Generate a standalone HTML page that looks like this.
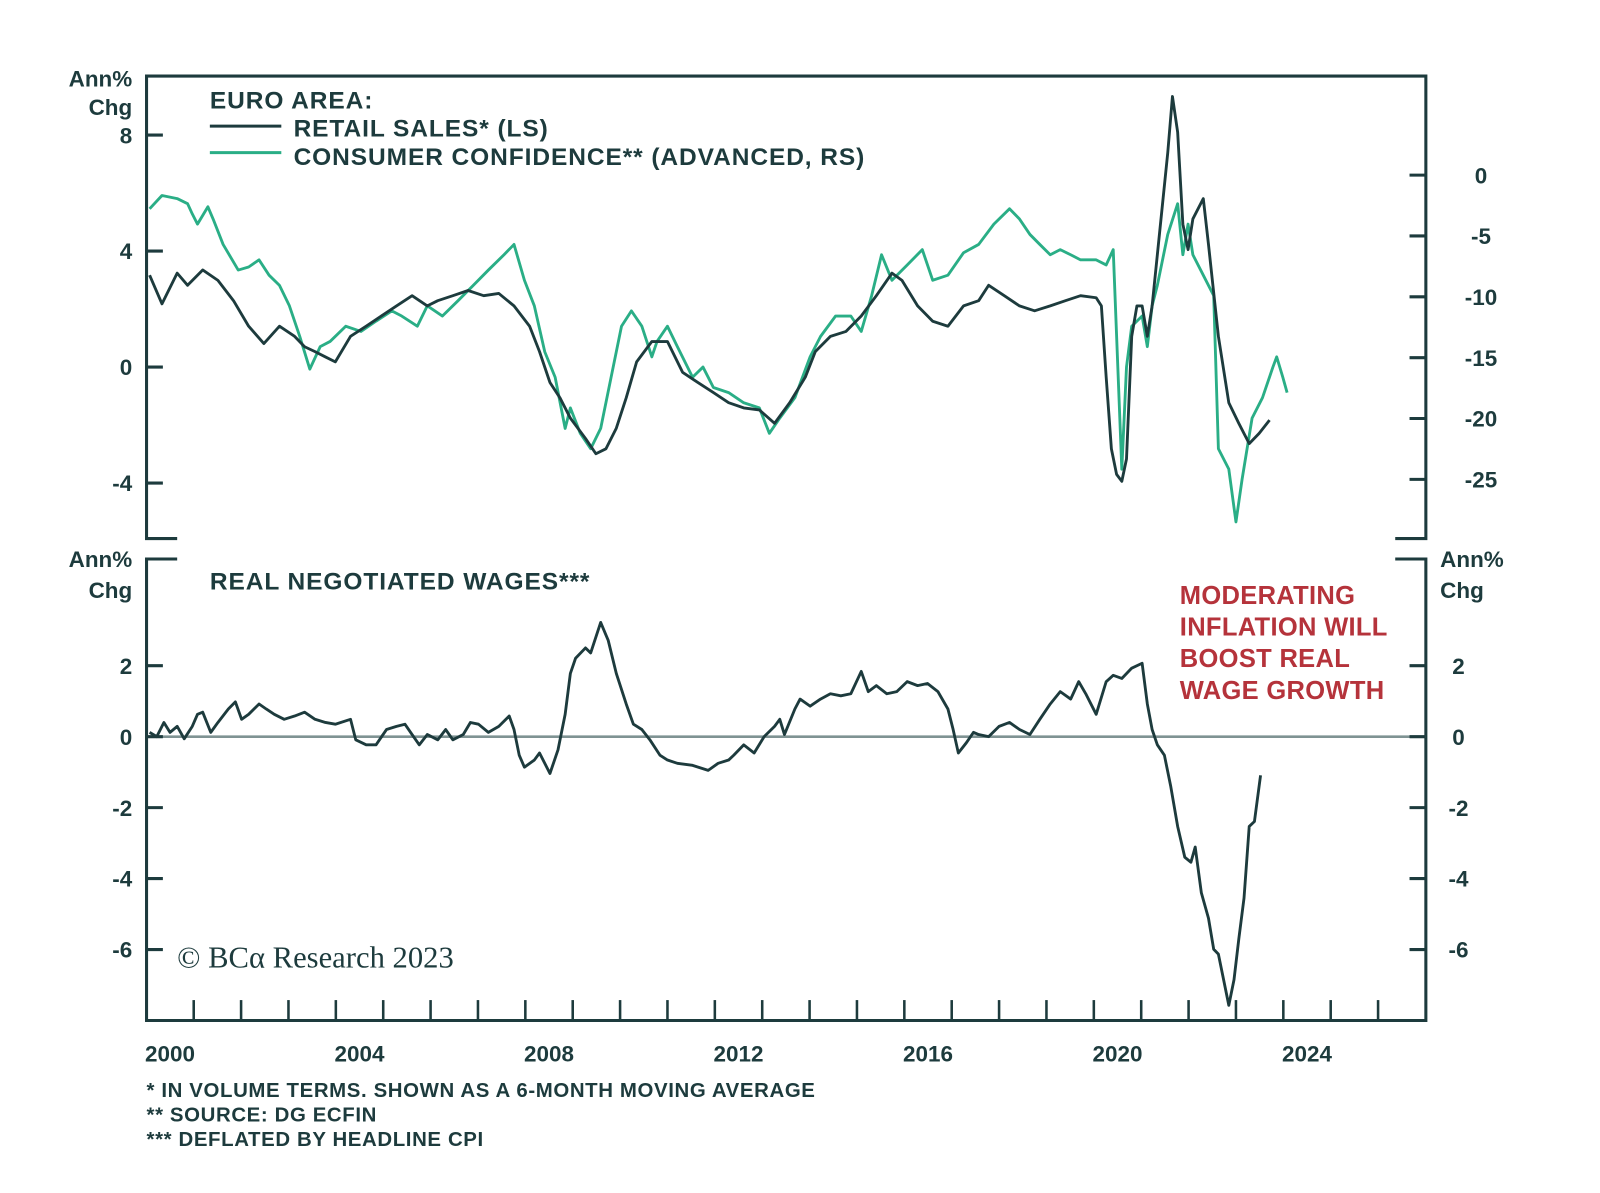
<!DOCTYPE html>
<html><head><meta charset="utf-8"><style>
html,body{margin:0;padding:0;background:#fff;}
svg{display:block;font-family:"Liberation Sans",Arial,sans-serif;font-weight:bold;}
</style></head><body>
<svg id="chart" width="1600" height="1193" viewBox="0 0 1600 1193" xmlns="http://www.w3.org/2000/svg">
<g transform="translate(-1.5,-0.5) scale(1.021)">
<g id="axes"></g>
<g id="series"></g>
<g fill="#1d3b3d" font-size="24" letter-spacing="0.9">
<text x="207" y="107">EURO AREA:</text>
<line x1="207" y1="124" x2="277" y2="124" stroke="#1d3b3d" stroke-width="3"/>
<text x="289" y="134">RETAIL SALES* (LS)</text>
<line x1="207" y1="150" x2="277" y2="150" stroke="#2aae86" stroke-width="3"/>
<text x="289" y="162">CONSUMER CONFIDENCE** (ADVANCED, RS)</text>
<text x="207" y="578">REAL NEGOTIATED WAGES***</text>
</g>
<g fill="#b5333b" font-size="25" letter-spacing="0.3">
<text x="1157" y="592">MODERATING</text><text x="1157" y="623">INFLATION WILL</text><text x="1157" y="654">BOOST REAL</text><text x="1157" y="685">WAGE GROWTH</text>
</g>
<text x="175" y="948" font-family="'Liberation Serif',serif" font-weight="normal" font-size="30" fill="#1d3b3d">© BCα Research 2023</text>
<g fill="#1d3b3d" font-size="20" letter-spacing="0.6">
<text x="145" y="1075">* IN VOLUME TERMS. SHOWN AS A 6-MONTH MOVING AVERAGE</text>
<text x="145" y="1099">**   SOURCE: DG ECFIN</text>
<text x="145" y="1123">***  DEFLATED BY HEADLINE CPI</text>
</g>
</g>
</svg>
<script>
const retailYears=[1999.57,1999.83,2000.15,2000.37,2000.69,2001.01,2001.34,2001.66,2001.98,2002.31,2002.63,2002.84,2003.06,2003.28,2003.49,2003.81,2004.14,2004.46,2004.78,2005.11,2005.43,2005.65,2005.97,2006.29,2006.62,2006.94,2007.26,2007.59,2007.80,2008.02,2008.23,2008.45,2008.77,2008.99,2009.20,2009.42,2009.63,2009.85,2010.17,2010.50,2010.82,2011.14,2011.47,2011.79,2012.11,2012.44,2012.76,2013.08,2013.41,2013.62,2013.94,2014.27,2014.59,2014.91,2015.24,2015.45,2015.78,2016.10,2016.42,2016.75,2017.07,2017.28,2017.61,2017.93,2018.25,2018.58,2018.90,2019.22,2019.55,2019.66,2019.76,2019.87,2019.98,2020.09,2020.19,2020.30,2020.41,2020.52,2020.63,2020.73,2020.95,2021.06,2021.16,2021.27,2021.38,2021.49,2021.59,2021.81,2021.92,2022.13,2022.35,2022.56,2022.78,2022.99,2023.21];
const retailValues=[3.17,2.18,3.24,2.82,3.35,2.99,2.29,1.41,0.81,1.41,1.06,0.70,0.53,0.35,0.18,1.06,1.41,1.76,2.11,2.46,2.11,2.29,2.46,2.64,2.46,2.54,2.11,1.41,0.53,-0.53,-1.06,-1.76,-2.46,-2.99,-2.82,-2.11,-1.06,0.18,0.88,0.88,-0.18,-0.53,-0.88,-1.23,-1.41,-1.48,-1.94,-1.23,-0.35,0.53,1.06,1.23,1.76,2.46,3.24,2.99,2.11,1.58,1.41,2.11,2.29,2.82,2.46,2.11,1.94,2.11,2.29,2.46,2.39,2.11,-0.35,-2.82,-3.70,-3.94,-3.17,1.06,2.11,2.11,1.06,2.11,5.63,7.39,9.33,8.10,4.93,4.05,5.11,5.81,4.23,1.06,-1.23,-1.94,-2.64,-2.29,-1.83];
const confYears=[1999.57,1999.83,2000.15,2000.37,2000.47,2000.58,2000.80,2000.91,2001.12,2001.44,2001.66,2001.88,2002.09,2002.31,2002.52,2002.74,2002.95,2003.17,2003.38,2003.71,2004.03,2004.35,2004.68,2004.89,2005.22,2005.43,2005.75,2006.08,2006.40,2006.72,2007.05,2007.26,2007.48,2007.69,2007.91,2008.13,2008.34,2008.45,2008.66,2008.88,2009.09,2009.31,2009.53,2009.74,2009.96,2010.17,2010.28,2010.50,2010.71,2011.03,2011.25,2011.47,2011.79,2012.11,2012.44,2012.65,2012.87,2013.19,2013.51,2013.73,2014.05,2014.37,2014.59,2014.81,2015.02,2015.24,2015.56,2015.88,2016.10,2016.42,2016.75,2017.07,2017.39,2017.72,2017.93,2018.15,2018.36,2018.58,2018.79,2019.01,2019.22,2019.55,2019.76,2019.91,2020.09,2020.19,2020.30,2020.52,2020.63,2020.73,2020.84,2021.06,2021.27,2021.38,2021.49,2021.59,2021.81,2022.03,2022.13,2022.35,2022.50,2022.63,2022.84,2023.06,2023.28,2023.36,2023.49,2023.58];
const confValues=[-2.77,-1.68,-1.93,-2.35,-3.19,-4.03,-2.60,-3.61,-5.70,-7.80,-7.55,-6.96,-8.22,-9.06,-10.74,-13.26,-15.94,-14.09,-13.67,-12.42,-12.84,-12.00,-11.16,-11.58,-12.42,-10.74,-11.58,-10.32,-9.06,-7.80,-6.54,-5.70,-8.64,-10.74,-14.51,-16.61,-20.81,-19.13,-21.22,-22.48,-20.81,-16.61,-12.42,-11.16,-12.42,-14.93,-13.67,-12.42,-14.09,-16.61,-15.77,-17.45,-17.87,-18.71,-19.13,-21.22,-19.97,-18.29,-14.93,-13.26,-11.58,-11.58,-12.84,-9.90,-6.54,-8.64,-7.38,-6.12,-8.64,-8.22,-6.38,-5.70,-4.03,-2.77,-3.61,-4.87,-5.70,-6.54,-6.12,-6.54,-6.96,-6.96,-7.38,-6.12,-24.16,-15.77,-12.42,-11.58,-14.09,-10.74,-9.06,-4.87,-2.35,-6.54,-4.03,-6.54,-8.22,-9.90,-22.48,-24.16,-28.5,-25.00,-19.97,-18.29,-15.77,-14.93,-16.61,-17.87];
const wageYears=[1999.57,1999.72,1999.87,2000.00,2000.15,2000.30,2000.47,2000.58,2000.69,2000.86,2001.01,2001.23,2001.38,2001.51,2001.66,2001.88,2002.03,2002.20,2002.41,2002.63,2002.84,2003.06,2003.28,2003.49,2003.81,2003.92,2004.14,2004.35,2004.57,2004.78,2004.96,2005.11,2005.26,2005.43,2005.65,2005.82,2005.97,2006.19,2006.34,2006.51,2006.72,2006.94,2007.16,2007.26,2007.37,2007.48,2007.69,2007.80,2008.02,2008.19,2008.34,2008.45,2008.56,2008.77,2008.88,2009.09,2009.25,2009.42,2009.63,2009.78,2009.96,2010.13,2010.34,2010.50,2010.71,2011.03,2011.36,2011.57,2011.79,2011.90,2012.11,2012.33,2012.54,2012.76,2012.87,2012.97,2013.19,2013.30,2013.51,2013.73,2013.94,2014.16,2014.37,2014.59,2014.74,2014.91,2015.13,2015.34,2015.56,2015.78,2015.99,2016.21,2016.42,2016.53,2016.64,2016.81,2016.96,2017.07,2017.28,2017.50,2017.72,2017.93,2018.15,2018.36,2018.58,2018.79,2019.01,2019.18,2019.33,2019.55,2019.76,2019.91,2020.09,2020.30,2020.52,2020.63,2020.73,2020.84,2020.99,2021.12,2021.27,2021.42,2021.55,2021.64,2021.77,2021.92,2022.03,2022.13,2022.24,2022.35,2022.46,2022.56,2022.67,2022.78,2022.89,2023.02];
const wageValues=[0.12,0,0.40,0.12,0.29,-0.06,0.29,0.63,0.69,0.12,0.40,0.78,0.98,0.49,0.63,0.92,0.78,0.63,0.49,0.58,0.69,0.49,0.40,0.35,0.49,-0.09,-0.23,-0.23,0.20,0.29,0.35,0.06,-0.23,0.06,-0.09,0.20,-0.09,0.06,0.40,0.35,0.12,0.29,0.58,0.20,-0.52,-0.86,-0.66,-0.46,-1.04,-0.37,0.63,1.78,2.21,2.50,2.36,3.22,2.71,1.78,0.92,0.35,0.20,-0.09,-0.52,-0.66,-0.75,-0.81,-0.95,-0.75,-0.66,-0.52,-0.23,-0.46,0,0.29,0.49,0.06,0.78,1.06,0.86,1.06,1.21,1.15,1.21,1.84,1.27,1.44,1.21,1.27,1.55,1.44,1.50,1.27,0.78,0.20,-0.46,-0.17,0.12,0.06,0,0.29,0.40,0.20,0.06,0.49,0.92,1.27,1.06,1.55,1.21,0.63,1.55,1.73,1.64,1.93,2.07,0.92,0.20,-0.23,-0.52,-1.38,-2.53,-3.40,-3.54,-3.11,-4.40,-5.12,-5.99,-6.13,-6.85,-7.57,-6.85,-5.70,-4.55,-2.53,-2.39,-1.09];
const xTickLabels=[2000,2004,2008,2012,2016,2020,2024];
const lsTicks=[8,4,0,-4];
const rsTicks=[0,-5,-10,-15,-20,-25];
const wageTicks=[2,0,-2,-4,-6];

const NS='http://www.w3.org/2000/svg';
const X=y=>168+(y-2000)*46.4;
const YL=v=>360-v*28.4;
const YR=v=>172-v*11.92;
const YW=v=>722-v*34.75;
const DARK='#1d3b3d';
function mk(tag,attrs,parent){const e=document.createElementNS(NS,tag);for(const k in attrs)e.setAttribute(k,attrs[k]);parent.appendChild(e);return e;}
const ax=document.getElementById('axes');
const se=document.getElementById('series');
let p=mk('path',{d:'M175,528 H145 V75 H1398 V528 H1368',fill:'none',stroke:DARK,'stroke-width':3},ax);


p=mk('path',{d:'M175,548 H145 V1000 H1398 V548 H1368',fill:'none',stroke:DARK,'stroke-width':3},ax);


p=mk('line',{x1:145,x2:1398,y1:YW(0),y2:YW(0),stroke:'#7f9393','stroke-width':2.5},ax);


function label(txt,x,y,anchor,name){const t=mk('text',{x:x,y:y,'text-anchor':anchor,'font-size':22,fill:DARK},ax);t.textContent=txt;

}
label('Ann%',131,85,'end','left-axis-title-top');label('Chg',131,113,'end','left-axis-title-top');
label('Ann%',131,556,'end','left-axis-title-bottom');label('Chg',131,586,'end','left-axis-title-bottom');
label('Ann%',1412,556,'start','right-axis-title-bottom');label('Chg',1412,586,'start','right-axis-title-bottom');
lsTicks.forEach(v=>{const y=YL(v);mk('line',{x1:145,x2:161,y1:y,y2:y,stroke:DARK,'stroke-width':3},ax);label(String(v),131,y+8,'end','left-tick-label');});
rsTicks.forEach(v=>{const y=YR(v);mk('line',{x1:1382,x2:1398,y1:y,y2:y,stroke:DARK,'stroke-width':3},ax);label(String(v),1452,y+8,'middle','right-tick-label');});
wageTicks.forEach(v=>{const y=YW(v);mk('line',{x1:145,x2:161,y1:y,y2:y,stroke:DARK,'stroke-width':3},ax);mk('line',{x1:1382,x2:1398,y1:y,y2:y,stroke:DARK,'stroke-width':3},ax);label(String(v),131,y+8,'end','left-tick-label');label(String(v),1430,y+8,'middle','right-tick-label');});
for(let yr=2000.5;X(yr)<1395;yr+=1){mk('line',{x1:X(yr),x2:X(yr),y1:980,y2:1000,stroke:DARK,'stroke-width':2.5},ax);}
xTickLabels.forEach(yr=>label(String(yr),X(yr),1040,'middle','x-tick-label'));
function line(xs,vs,yf,color,name){const d=xs.map((x,i)=>(i?'L':'M')+X(x).toFixed(1)+','+yf(vs[i]).toFixed(1)).join(' ');
const e=mk('path',{d:d,fill:'none',stroke:color,'stroke-width':2.8,'stroke-linejoin':'round'},se);

}
line(confYears,confValues,YR,'#2aae86','consumer-confidence-line');
line(retailYears,retailValues,YL,DARK,'retail-sales-line');
line(wageYears,wageValues,YW,DARK,'real-wages-line');
</script>
</body></html>
